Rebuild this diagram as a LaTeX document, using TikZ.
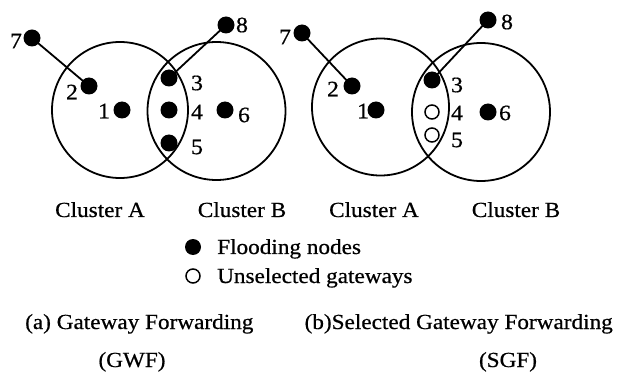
\documentclass[tikz,border=0pt]{standalone}
\usepackage{fontspec}
\setmainfont{Liberation Serif}[FakeStretch=1.08,FakeBold=0.6]
\begin{document}
\begin{tikzpicture}[x=1pt,y=-1pt,
  flood/.style={circle,fill=black,inner sep=0pt,minimum size=17pt},
  unsel/.style={circle,draw=black,line width=1.5pt,fill=white,inner sep=0pt,minimum size=14pt},
  num/.style={inner sep=0pt,font=\fontsize{22}{24}\selectfont},
  txt/.style={inner sep=0pt,font=\fontsize{21.5}{24}\selectfont},
  cluster/.style={line width=1.8pt},
  link/.style={line width=1.8pt}]
\useasboundingbox (0,0) rectangle (621,374);

% ---- (a) Gateway Forwarding ----
\draw[cluster] (120,110) circle[radius=68pt];
\draw[cluster] (216.5,111) circle[radius=69pt];
\node[flood] (a7) at (32,38) {};
\node[flood] (a2) at (89,86) {};
\node[flood] (a1) at (122,110) {};
\node[flood] (a3) at (169,78) {};
\node[flood] (a4) at (169,110) {};
\node[flood] (a5) at (169,143) {};
\node[flood] (a6) at (225,110) {};
\node[flood] (a8) at (226,25) {};
\draw[link] (a7.center) -- (a2.center);
\draw[link] (a8.center) -- (a3.center);
\node[num] (la7) at (16,41) {7};
\node[num] (la2) at (72,92) {2};
\node[num] (la1) at (104,111) {1};
\node[num] (la3) at (197,83) {3};
\node[num] (la4) at (197,112) {4};
\node[num] (la5) at (197,147) {5};
\node[num] (la6) at (244,115) {6};
\node[num] (la8) at (242,25) {8};

% ---- (b) Selected Gateway Forwarding ----
\draw[cluster] (380.5,107) circle[radius=68.5pt];
\draw[cluster] (481,112) circle[radius=69pt];
\node[flood] (b7) at (302,33) {};
\node[flood] (b2) at (352,86) {};
\node[flood] (b1) at (376,110) {};
\node[flood] (b3) at (432,80) {};
\node[unsel] (b4) at (432,112) {};
\node[unsel] (b5) at (432,135) {};
\node[flood] (b6) at (488,112) {};
\node[flood] (b8) at (488,20) {};
\draw[link] (b7.center) -- (b2.center);
\draw[link] (b8.center) -- (b3.center);
\node[num] (lb7) at (285,37) {7};
\node[num] (lb2) at (333,89) {2};
\node[num] (lb1) at (363,111) {1};
\node[num] (lb3) at (457,85) {3};
\node[num] (lb4) at (457,113) {4};
\node[num] (lb5) at (457,140) {5};
\node[num] (lb6) at (505,113) {6};
\node[num] (lb8) at (507,22) {8};

% ---- cluster names ----
\node[txt,anchor=base] (ca1) at (100,217) {Cluster A};
\node[txt,anchor=base] (cb1) at (242,217) {Cluster B};
\node[txt,anchor=base] (ca2) at (374,217) {Cluster A};
\node[txt,anchor=base] (cb2) at (516,217) {Cluster B};

% ---- legend ----
\node[flood,minimum size=16pt] (kf) at (193,247) {};
\node[txt,anchor=base west] (kft) at (217,254) {Flooding nodes};
\node[unsel] (ku) at (193,276) {};
\node[txt,anchor=base west] (kut) at (217,283) {Unselected gateways};

% ---- captions ----
\node[txt,anchor=base west] (capa) at (25,329) {(a) Gateway Forwarding};
\node[txt,anchor=base east] (capb) at (613,329) {(b)Selected Gateway Forwarding};
\node[txt,anchor=base] (gwf) at (132,367) {(GWF)};
\node[txt,anchor=base] (sgf) at (508,367) {(SGF)};
\end{tikzpicture}
\end{document}
